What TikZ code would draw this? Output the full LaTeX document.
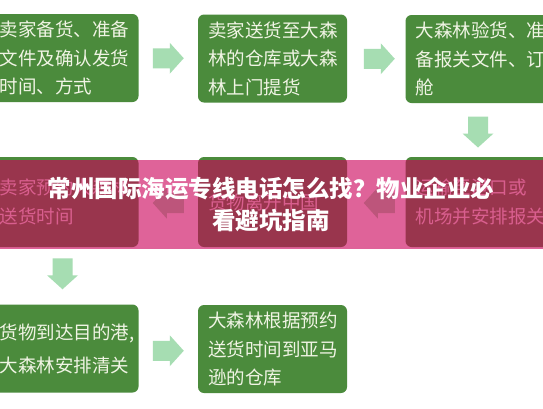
\documentclass[tikz,border=0pt]{standalone}
\usepackage{fontspec}
\newfontfamily\cjk{Noto Sans CJK SC}
\usetikzlibrary{calc}
\definecolor{boxgreen}{RGB}{75,139,60}
\definecolor{arrowgreen}{RGB}{166,221,178}
\definecolor{boxtext}{RGB}{240,244,228}
\definecolor{overlaypink}{RGB}{204,0,89}
\begin{document}
\begin{tikzpicture}[x=1pt,y=-1pt,
  flowbox/.style={fill=boxgreen, rounded corners=6pt, minimum width=149pt,
    minimum height=88pt, text width=129pt, inner xsep=10pt, inner ysep=0pt,
    align=left, text=boxtext, font=\cjk\fontsize{18.5}{28.5}\selectfont},
  barrow/.pic={\fill[arrowgreen] (-15.5,-10) -- (1.5,-10) -- (1.5,-15.5) -- (15.5,0)
    -- (1.5,15.5) -- (1.5,10) -- (-15.5,10) -- cycle;},
  titletext/.style={text=white, align=center,
    font=\cjk\bfseries\fontsize{23.5}{32}\selectfont}]
\useasboundingbox (0,0) rectangle (543,408);
\clip (0,0) rectangle (543,408);
\fill[white] (0,0) rectangle (543,408);

\node[flowbox] (b1) at (64,58) {卖家备货、准备\\文件及确认发货\\时间、方式};
\node[flowbox] (b2) at (272.5,58.5) {卖家送货至大森\\林的仓库或大森\\林上门提货};
\node[flowbox] (b3) at (480,59) {大森林验货、准\\备报关文件、订\\舱};
\node[flowbox, minimum height=90pt] (b4) at (480,202) {运输至港口或\\机场并安排报关};
\node[flowbox, minimum height=90pt] (b5) at (272.5,202) {货物离开中国};
\node[flowbox, minimum height=90pt] (b6) at (64,202) {卖家预约大森林\\送货时间};
\node[flowbox, font=\cjk\fontsize{18.5}{33}\selectfont] (b7) at (64,348.5) {货物到达目的港,\\大森林安排清关};
\node[flowbox] (b8) at (272.5,349) {大森林根据预约\\送货时间到亚马\\逊的仓库};

\pic at ($(b1.east)!0.5!(b2.west)$) {barrow};
\pic at ($(b2.east)!0.5!(b3.west)+(3,0)$) {barrow};
\pic[rotate=-90] at ($(b3.south)!0.5!(b4.north)+(-2,2)$) {barrow};
\pic[rotate=180] at ($(b4.west)!0.5!(b5.east)+(3,1)$) {barrow};
\pic[rotate=180] at ($(b5.west)!0.5!(b6.east)+(0,1)$) {barrow};
\pic[rotate=-90] at ($(b6.south)!0.5!(b7.north)+(-1.5,-2)$) {barrow};
\pic at ($(b7.east)!0.5!(b8.west)+(0,2)$) {barrow};

\fill[overlaypink, opacity=0.61] (0,160) rectangle (543,249);
\node[titletext] (title) at (271,205) {常州国际海运专线电话怎么找？物业企业必\\看避坑指南};
\end{tikzpicture}
\end{document}
